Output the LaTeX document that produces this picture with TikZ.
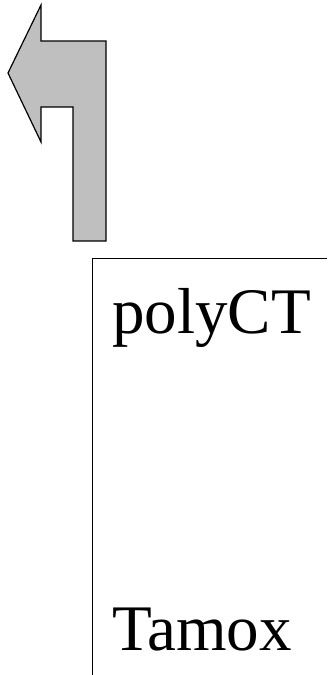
\documentclass[tikz,border=0pt]{standalone}
\usepackage{fontspec}
\setmainfont{Liberation Serif}
\begin{document}
\begin{tikzpicture}[x=1pt,y=-1pt,
  lbl/.style={anchor=base west,inner sep=0pt,font=\fontsize{65}{70}\selectfont},
  bentarrow/.style={draw=black,fill=black!25,line width=1.2pt,line join=miter}]
\useasboundingbox (0,0) rectangle (327,675);
\draw[bentarrow] (8,73) -- (41,5) -- (41,41) -- (106,41) -- (106,241) -- (73,241) -- (73,107) -- (41,107) -- (41,142) -- cycle;
\coordinate (tr) at (327,258.5);
\coordinate (tl) at (92.5,258.5);
\coordinate (bl) at (92.5,675);
\draw[line width=1.2pt] (tr) -- (tl) -- (bl);
\node[lbl] (poly) at (112,333) {polyCT};
\node[lbl] (tam) at (112,650) {Tamox};
\end{tikzpicture}
\end{document}
